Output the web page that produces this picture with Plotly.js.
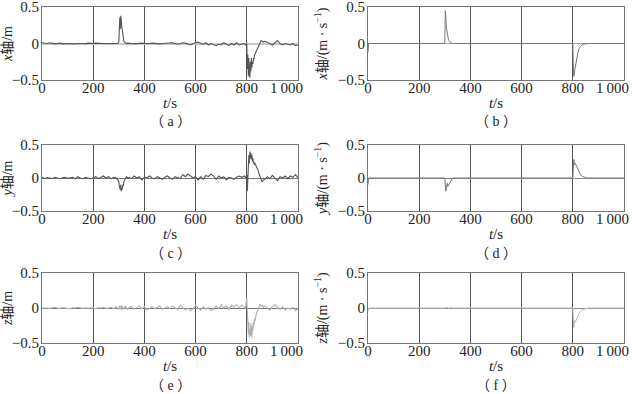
<!DOCTYPE html>
<html>
<head>
<meta charset="utf-8">
<script src="https://cdn.plot.ly/plotly-3.0.1.min.js"></script>
<style>
html,body{margin:0;padding:0;background:#fff;}
#chart{width:632px;height:394px;}
#chart svg text{font-family:'Liberation Serif','Noto Sans CJK SC',serif !important;}
</style>
</head>
<body>
<div id="chart"></div>
<script>
// shared time grid for the position panels (s)
const tPos = [0,10,20,30,40,50,60,70,80,90,100,110,120,130,140,150,160,170,180,190,200,210,220,230,240,250,260,270,280,290,
  295,300,302,304,306,308,310,312,314,316,318,320,325,330,335,340,
  350,360,370,380,390,400,410,420,430,440,450,460,470,480,490,500,510,520,530,540,550,560,570,580,590,600,610,620,630,640,650,660,670,680,690,700,710,720,730,740,750,760,770,780,790,
  795,800,802,804,806,808,810,812,814,816,818,820,822,824,826,828,830,833,836,840,844,848,852,856,860,865,
  870,880,890,900,910,920,930,940,950,960,970,980,990,1000];

// (a) x-axis position error (m)
const xPos = [0.01,0.005,0.0,0.01,0.0,-0.005,0.0,0.005,-0.005,0.0,0.005,0.0,-0.005,0.0,0.005,0.0,0.0,-0.005,0.005,0.0,0.0,0.005,0.0,-0.005,0.0,0.0,0.005,0.0,0.0,0.005,
  0.0,0.02,0.33,0.36,0.2,0.38,0.3,0.22,0.16,0.1,0.06,0.03,0.01,0.0,0.005,0.0,
  0.0,-0.005,0.0,0.01,0.005,0.0,-0.005,0.0,0.005,0.0,0.0,-0.005,0.0,0.005,0.0,0.005,0.01,0.0,-0.01,0.0,0.01,0.005,-0.01,-0.02,0.0,0.01,0.02,0.0,-0.01,0.01,-0.02,0.0,-0.02,-0.03,-0.01,-0.02,0.01,-0.01,-0.03,0.0,-0.02,0.01,-0.02,-0.01,0.0,
  -0.02,0.0,-0.35,-0.15,-0.45,-0.2,-0.4,-0.47,-0.25,-0.38,-0.2,-0.33,-0.25,-0.28,-0.2,-0.22,-0.16,-0.14,-0.12,-0.08,-0.05,-0.02,0.01,0.04,0.03,0.02,
  0.03,0.02,0.0,-0.02,0.01,0.04,0.0,-0.02,0.0,-0.01,-0.02,0.0,-0.03,-0.02];

// (c) y-axis position error (m)
const yPos = [0.01,-0.01,0.005,0.0,-0.01,0.01,0.0,-0.01,0.005,0.01,-0.005,0.0,0.01,-0.01,0.02,0.0,-0.01,0.01,0.0,-0.01,0.0,0.02,-0.01,0.01,0.03,0.0,0.02,-0.01,0.01,0.0,
  -0.02,-0.05,-0.12,-0.15,-0.18,-0.1,-0.2,-0.15,-0.17,-0.1,-0.12,-0.05,-0.02,0.02,0.0,0.01,
  -0.01,0.03,0.0,0.02,-0.03,0.01,0.0,0.03,0.0,-0.01,0.02,0.0,-0.02,0.01,0.03,0.0,-0.02,0.02,0.0,-0.01,0.05,0.02,0.06,0.03,0.0,0.02,-0.03,0.02,-0.02,0.04,0.02,0.06,0.03,-0.02,0.03,0.0,0.02,-0.03,0.01,0.0,-0.02,0.01,0.03,0.01,0.03,
  0.0,0.05,-0.2,0.1,0.3,0.35,0.22,0.4,0.3,0.38,0.28,0.35,0.25,0.3,0.22,0.25,0.2,0.22,0.18,0.15,0.12,0.06,0.02,-0.03,-0.06,-0.03,
  -0.02,0.02,-0.01,0.04,0.0,-0.04,0.02,0.0,0.03,-0.01,0.03,0.01,0.05,0.0];

// (e) z-axis position error (m)
const zPos = [0.0,0.005,0.0,-0.005,0.0,0.01,0.0,-0.005,0.005,0.0,0.0,-0.01,0.005,0.0,0.01,0.0,-0.005,0.0,0.005,0.0,0.0,-0.01,0.005,0.0,0.01,-0.005,0.0,0.01,-0.01,0.02,
  0.0,-0.02,0.03,0.0,-0.02,0.02,0.04,0.0,-0.03,0.02,0.0,-0.02,0.03,0.0,-0.02,0.01,
  0.02,-0.02,0.01,0.03,-0.01,0.02,-0.03,0.0,0.02,-0.01,0.01,0.03,-0.02,0.0,0.02,-0.01,0.03,0.0,-0.02,0.04,0.01,-0.03,0.0,-0.04,-0.01,0.04,0.0,-0.03,0.02,-0.02,0.01,-0.04,-0.02,0.03,-0.01,0.05,0.0,0.03,-0.02,0.04,0.01,0.05,0.0,0.04,0.02,
  0.0,0.15,-0.05,-0.25,-0.38,-0.2,-0.42,-0.3,-0.4,-0.22,-0.35,-0.42,-0.25,-0.32,-0.2,-0.25,-0.15,-0.18,-0.1,-0.05,-0.02,0.02,0.05,0.03,0.04,0.01,
  0.03,0.0,-0.03,0.02,0.05,0.01,-0.02,0.02,-0.03,0.0,-0.02,0.01,-0.04,-0.01];

// (b) x-axis velocity error (m/s)
const tXVel = [0,2,300,302,304,306,310,314,318,322,326,330,340,800,802,804,806,808,812,816,820,825,830,840,850,860,1000];
const xVel = [-0.12,0,0,0.45,0.35,0.22,0.12,0.06,0.03,0.01,0.005,0,0,0,-0.3,-0.45,-0.42,-0.36,-0.26,-0.18,-0.12,-0.07,-0.04,-0.01,0,0,0];

// (d) y-axis velocity error (m/s)
const tYVel = [0,2,300,302,304,306,308,310,312,316,320,325,330,340,800,802,804,806,808,810,814,818,822,826,830,835,840,850,860,1000];
const yVel = [-0.1,0,0,-0.1,-0.2,-0.15,-0.1,-0.08,-0.13,-0.1,-0.05,-0.02,0,0,0,0.15,0.28,0.22,0.2,0.22,0.18,0.14,0.1,0.08,0.05,0.03,0.02,0.005,0,0];

// (f) z-axis velocity error (m/s)
const tZVel = [0,2,300,305,310,315,320,330,800,802,804,806,808,810,814,818,822,826,830,835,840,850,860,1000];
const zVel = [-0.05,0,0,0.005,0.01,-0.005,0.005,0,0,-0.15,-0.28,-0.22,-0.18,-0.2,-0.16,-0.14,-0.1,-0.07,-0.05,-0.03,-0.02,-0.01,0,0];

const xTickVals = [0,200,400,600,800,1000];
const xTickText = ['0','200','400','600','800','1\u2009000'];
const yTickVals = [-0.5,0,0.5];
const yTickText = ['\u22120.5','0','0.5'];

const yTitles = [
  '<i>x</i>轴/m',
  '<i>x</i>轴/(m · s<sup>−1</sup>)',
  '<i>y</i>轴/m',
  '<i>y</i>轴/(m · s<sup>−1</sup>)',
  '<i>z</i>轴/m',
  '<i>z</i>轴/(m · s<sup>−1</sup>)'
];
const captions = ['（ a ）','（ b ）','（ c ）','（ d ）','（ e ）','（ f ）'];

const FONT = 'Liberation Serif';

const panels = [
  {x:tPos, y:xPos, color:'#555', w:1.1, zc:'#c8c8c8', zw:2},
  {x:tXVel, y:xVel, color:'#777', w:1, zc:'#a0a0a0', zw:1.5},
  {x:tPos, y:yPos, color:'#555', w:1.1, zc:'#777', zw:1},
  {x:tYVel, y:yVel, color:'#777', w:1, zc:'#888', zw:1},
  {x:tPos, y:zPos, color:'#b0b0b0', w:1.1, zc:'#777', zw:1},
  {x:tZVel, y:zVel, color:'#bbb', w:1, zc:'#888', zw:1}
];

const H = 394, W = 632;
const colX = [[42,298],[368,624]];
const rowY = [[7,80],[145,211],[273,343]];

const data = [];
const layout = {
  width: W, height: H,
  margin: {l:0,r:0,t:0,b:0},
  paper_bgcolor:'#fff', plot_bgcolor:'#fff',
  showlegend:false,
  font:{family:FONT, size:15, color:'#222'},
  annotations: []
};

panels.forEach((p,i)=>{
  const col = i % 2, row = Math.floor(i/2);
  const n = i===0 ? '' : String(i+1);
  data.push({x:p.x, y:p.y, type:'scatter', mode:'lines',
    line:{color:p.color, width:p.w}, xaxis:'x'+n, yaxis:'y'+n, hoverinfo:'skip'});
  const xd = [colX[col][0]/W, colX[col][1]/W];
  const yd = [1-rowY[row][1]/H, 1-rowY[row][0]/H];
  // the last tick label sits left of its tick in the reference, so it is drawn as an annotation
  layout['xaxis'+n] = {
    domain:xd, anchor:'y'+n, range:[0,1000],
    tickmode:'array', tickvals:xTickVals.slice(0,5), ticktext:xTickText.slice(0,5),
    showgrid:true, gridcolor:'#555', gridwidth:1,
    zeroline:false, showline:true, mirror:true, linecolor:'#777', linewidth:1,
    ticks:'', ticklen:0, ticklabelstandoff:-6, ticklabeloverflow:'allow',
    tickfont:{family:FONT, size:15, color:'#222'},
    title:{text:'<i>t</i>/s', font:{family:FONT, size:15, color:'#222'}, standoff:2}
  };
  layout['yaxis'+n] = {
    domain:yd, anchor:'x'+n, range:[-0.5,0.5],
    tickmode:'array', tickvals:yTickVals, ticktext:yTickText,
    showgrid:false, zeroline:true, zerolinecolor:p.zc, zerolinewidth:p.zw,
    showline:true, mirror:true, linecolor:'#777', linewidth:1,
    ticks:'', ticklen:0, ticklabelstandoff:-1, ticklabeloverflow:'allow',
    tickfont:{family:FONT, size:15, color:'#222'},
    title:{text:yTitles[i], font:{family:FONT, size:14, color:'#222'}, standoff: col===0 ? 0 : 6}
  };
  layout.annotations.push({
    text:xTickText[5], xref:'paper', yref:'paper',
    x:(colX[col][1]+7)/W, y:1-(rowY[row][1]+8)/H,
    xanchor:'right', yanchor:'middle', showarrow:false,
    font:{family:FONT, size:15, color:'#222'}
  });
  layout.annotations.push({
    text:captions[i], xref:'paper', yref:'paper',
    x:(xd[0]+xd[1])/2, y:1-(rowY[row][1]+42)/H,
    xanchor:'center', yanchor:'middle', showarrow:false,
    font:{family:FONT, size:14, color:'#222'}
  });
});

Plotly.newPlot('chart', data, layout, {staticPlot:true, displayModeBar:false});
</script>
</body>
</html>
